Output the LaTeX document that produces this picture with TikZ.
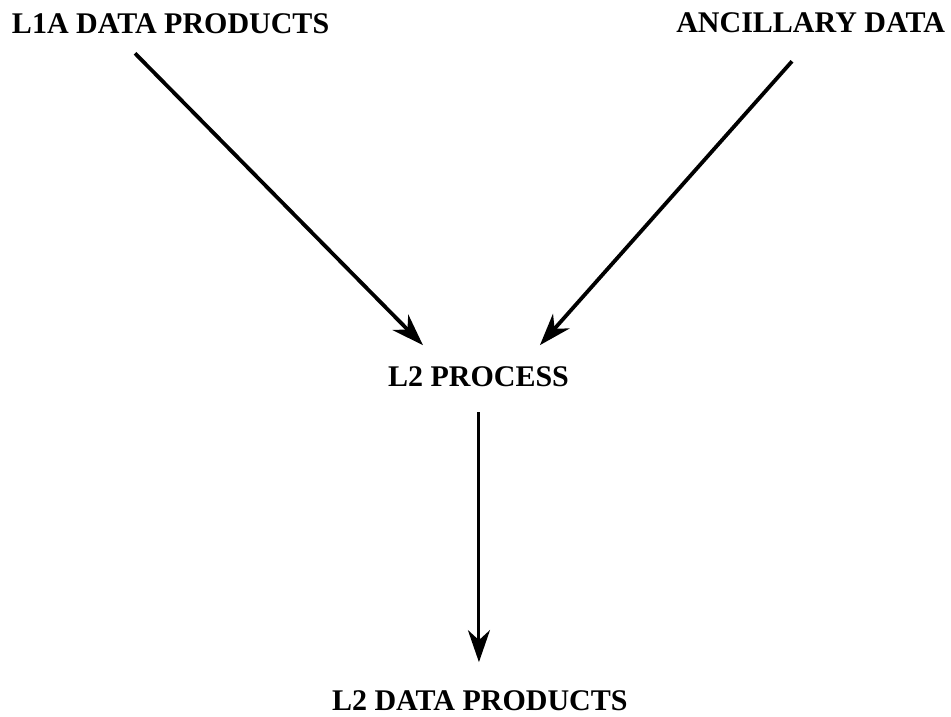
\documentclass[tikz,border=0pt]{standalone}
\usepackage{fontspec}
\setmainfont{Liberation Serif}
\usetikzlibrary{arrows.meta,calc}
\begin{document}
\begin{tikzpicture}[x=1pt,y=-1pt,
  lbl/.style={inner sep=0pt,outer sep=0pt,font=\fontsize{30}{36}\selectfont\bfseries},
  arr/.style={line width=3.8pt,-{Stealth[length=32pt,width=22pt,inset=10pt]}}]
\useasboundingbox[fill=white] (0,0) rectangle (951,717);
\node[lbl,anchor=base west] (l1a) at (12,34) {L1A DATA PRODUCTS};
\node[lbl,anchor=base east] (anc) at (945,33) {ANCILLARY DATA};
\node[lbl,anchor=base west] (proc) at (388,386) {L2 PROCESS};
\node[lbl,anchor=base west] (out) at (332,710) {L2 DATA PRODUCTS};
\draw[arr] ($(l1a.south west)+(123,19)$) -- ($(proc.north)+(-55.5,-21)$);
\draw[arr] ($(anc.south east)+(-153,28)$) -- ($(proc.north)+(61.5,-21)$);
\draw[arr,line width=3pt] ($(proc.south)+(0.5,26)$) -- ($(proc.south |- out.north)+(0.5,-28)$);
\end{tikzpicture}
\end{document}
